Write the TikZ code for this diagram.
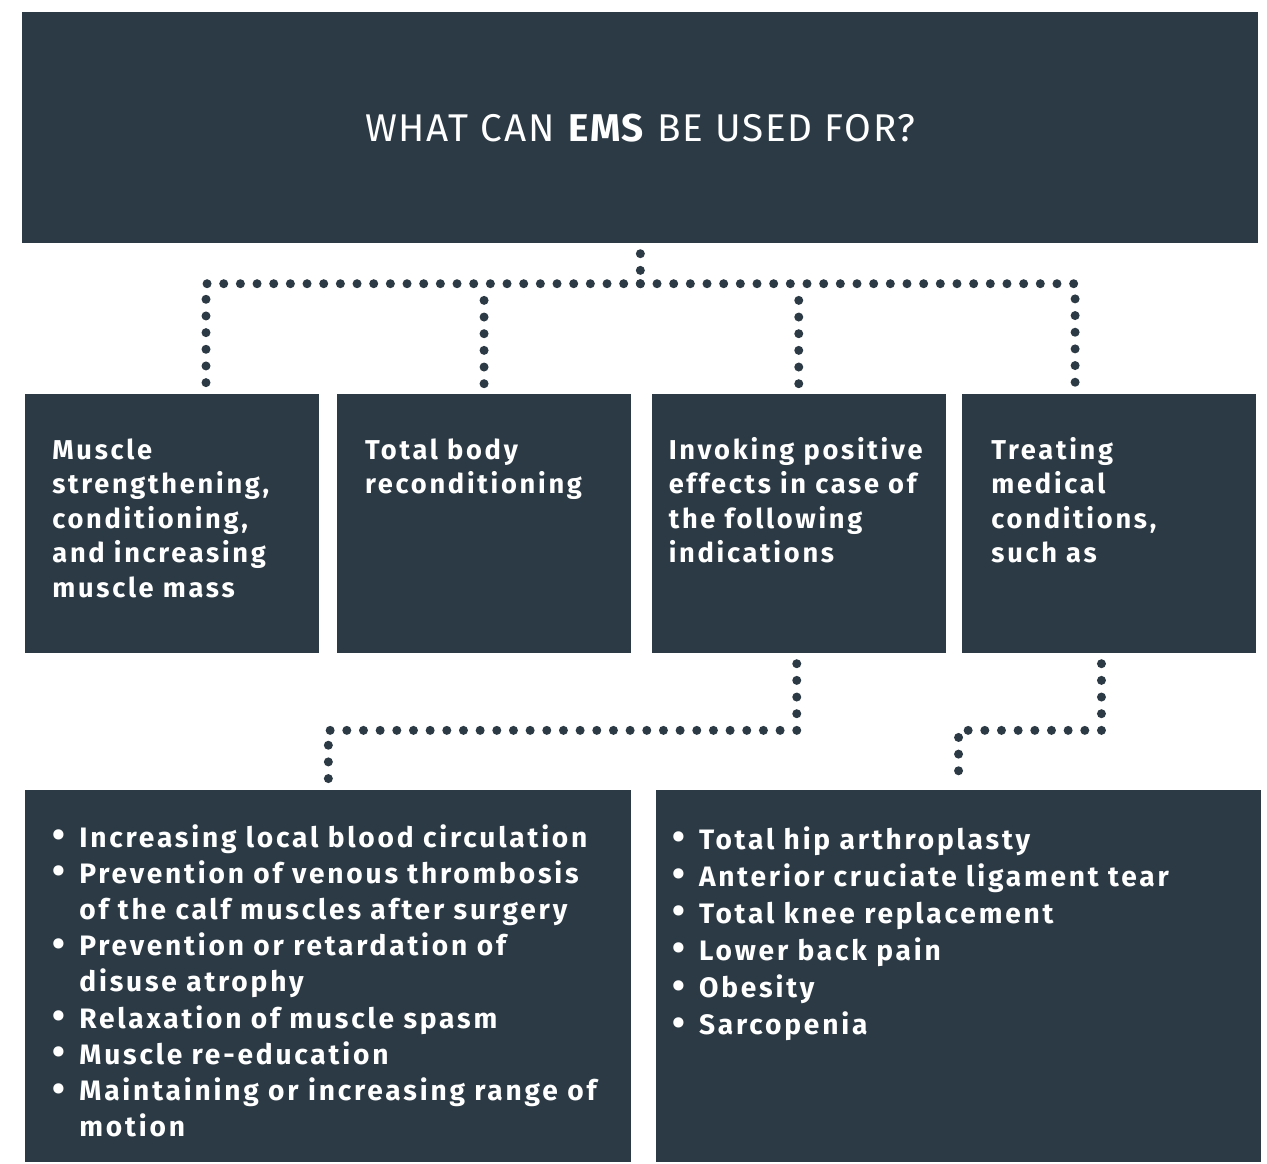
\documentclass[tikz,border=0pt]{standalone}
\usepackage{fontspec}
\setmainfont{Fira Sans}
\newfontfamily\emsfont{Fira Sans}[LetterSpace=10]
\newfontfamily\headfont{Fira Sans}[LetterSpace=4.5]
\usepackage{xcolor}
\usetikzlibrary{positioning,calc}

\definecolor{emsdark}{HTML}{2C3A45}
\newcommand{\bitem}[1]{\hangindent=0.48cm\hangafter=1\makebox[0.48cm][l]{\hspace{-0.06cm}\raisebox{-0.4pt}{\fontsize{21}{0}\selectfont\textbullet}}#1\par}
\newcommand{\nl}{\hfil\break}

\begin{document}
\begin{tikzpicture}[
    box/.style={fill=emsdark, rectangle, inner sep=0pt, minimum width=5.88cm, minimum height=5.18cm},
    boxtext/.style={anchor=base west, inner sep=0pt, text=white, align=left, text width=5.6cm, font=\emsfont\bfseries\fontsize{15.5}{19.7}\selectfont},
    listtext/.style={boxtext, text width=11.4cm, font=\emsfont\bfseries\fontsize{16}{20.6}\selectfont},
    dotline/.style={emsdark, line width=0.18cm, line cap=round, dash pattern=on 0pt off 0.3333cm}
]
    \useasboundingbox (0,0) rectangle (25.34,-23.26);

    % title
    \node [box, anchor=north west, minimum width=24.72cm, minimum height=4.62cm] (title) at (0.44,-0.24) {};
    \node [anchor=base, text=white, inner sep=0pt, font=\headfont\fontsize{22}{26}\selectfont] (titletext) at ($(title.north)+(0,-2.58)$) {WHAT CAN \textbf{EMS} BE USED FOR?};

    % uses
    \node [box, anchor=north west] (box1) at (0.5,-7.88) {};
    \node [box, right=0.34cm of box1] (box2) {};
    \node [box, right=0.4cm of box2] (box3) {};
    \node [box, right=0.32cm of box3] (box4) {};

    \node [boxtext] (text1) at ($(box1.north west)+(0.54,-1.3)$) {Muscle\\strengthening,\\conditioning,\\and increasing\\muscle mass};
    \node [boxtext] (text2) at ($(box2.north west)+(0.56,-1.3)$) {Total body\\reconditioning};
    \node [boxtext] (text3) at ($(box3.north west)+(0.34,-1.3)$) {Invoking positive\\effects in case of\\the following\\indications};
    \node [boxtext] (text4) at ($(box4.north west)+(0.58,-1.3)$) {Treating\\medical\\conditions,\\such as};

    % lists
    \node [box, anchor=north west, minimum width=12.12cm, minimum height=7.44cm] (blist) at (0.5,-15.8) {};
    \node [box, right=0.48cm of blist, minimum width=12.1cm, minimum height=7.44cm] (rlist) {};

    \node [listtext] (indications) at ($(blist.north west)+(0.6,-1.14)$) {%
        \bitem{Increasing local blood circulation}%
        \bitem{Prevention of venous thrombosis\nl of the calf muscles after surgery}%
        \bitem{Prevention or retardation of\nl disuse atrophy}%
        \bitem{Relaxation of muscle spasm}%
        \bitem{Muscle re-education}%
        \bitem{Maintaining or increasing range of\nl motion}};
    \node [listtext, font=\emsfont\bfseries\fontsize{16}{21.1}\selectfont] (conditions) at ($(rlist.north west)+(0.38,-1.18)$) {%
        \bitem{Total hip arthroplasty}%
        \bitem{Anterior cruciate ligament tear}%
        \bitem{Total knee replacement}%
        \bitem{Lower back pain}%
        \bitem{Obesity}%
        \bitem{Sarcopenia}};

    % dotted connectors
    \coordinate (hub) at ($(title.south)+(0,-0.8)$);
    \draw [dotline] ([yshift=-0.2cm]title.south) -- (hub);
    \draw [dotline] (hub) -| ([xshift=3.62cm, yshift=0.22cm]box1.north west);
    \draw [dotline] (hub) -| ([xshift=2.26cm, yshift=0.22cm]box4.north west);
    \draw [dotline] ([yshift=-0.3333cm]box2.north |- hub) -- ([yshift=0.2cm]box2.north);
    \draw [dotline] ([yshift=-0.3333cm]box3.north |- hub) -- ([yshift=0.2cm]box3.north);

    \draw [dotline] ([xshift=-0.04cm, yshift=-0.2cm]box3.south) -- ++(0,-1.3333) -| ([yshift=0.18cm]blist.north);
    \draw [dotline] ([xshift=-0.16cm, yshift=-0.2cm]box4.south) -- ++(0,-1.3333) -| ([yshift=0.18cm]rlist.north);
\end{tikzpicture}
\end{document}
